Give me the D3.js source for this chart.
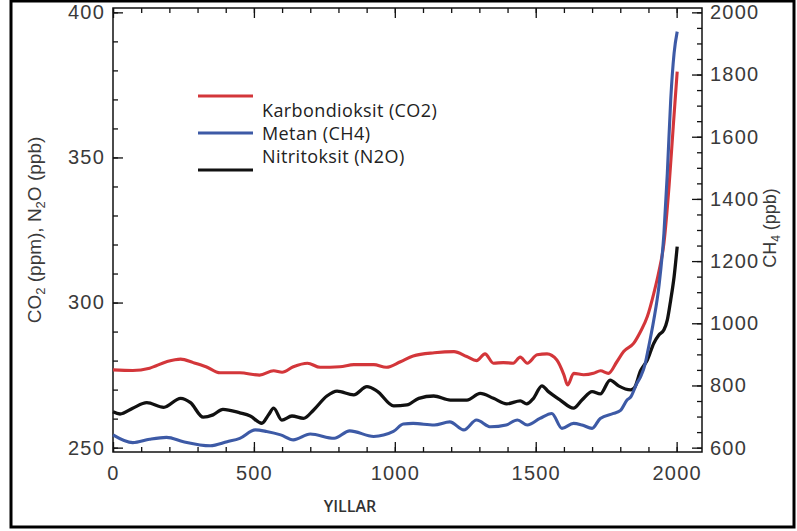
<!DOCTYPE html>
<html>
<head>
<meta charset="utf-8">
<script src="https://cdn.jsdelivr.net/npm/d3@7"></script>
<style>
  html, body { margin: 0; padding: 0; background: #fff; }
  svg { display: block; }
</style>
</head>
<body>
<svg id="chart" width="797" height="531"></svg>
<script>
// Carbon dioxide (ppm, left axis)
const co2Years = [0, 70, 130, 190, 240, 285, 330, 380, 450, 520, 570, 600, 640, 690, 735, 805, 855, 925, 970, 1020,
  1065, 1140, 1210, 1255, 1290, 1320, 1350, 1385, 1420, 1445, 1470, 1505, 1540, 1575, 1600, 1613, 1635, 1670, 1705,
  1730, 1758, 1788, 1812, 1848, 1872, 1896, 1919, 1937, 1955, 1973, 1988, 2002];
const co2Values = [276.8, 276.6, 277.4, 279.6, 280.5, 279.3, 277.9, 275.8, 275.8, 275.0, 276.5, 276.0, 277.9, 279.1,
  277.7, 277.9, 278.6, 278.6, 277.7, 279.6, 281.6, 282.7, 283.1, 281.4, 280.0, 282.3, 279.1, 279.3, 279.1, 281.2,
  279.1, 282.0, 282.3, 280.2, 275.1, 271.6, 275.6, 275.1, 275.6, 276.5, 275.6, 279.6, 283.1, 286.0, 290.0, 295.2,
  303.2, 310.7, 320.5, 340.0, 360.7, 379.6];

// Methane (ppb, right axis)
const ch4Years = [0, 70, 130, 190, 250, 345, 405, 450, 505, 545, 595, 640, 700, 785, 840, 925, 995, 1030, 1065, 1140,
  1195, 1245, 1290, 1340, 1395, 1435, 1470, 1515, 1557, 1593, 1634, 1664, 1700, 1729, 1776, 1801, 1824, 1837, 1859,
  1872, 1889, 1896, 1919, 1937, 1955, 1967, 1979, 1991, 2002];
const ch4Values = [641, 616, 627, 633, 619, 606, 619, 630, 657, 652, 641, 625, 644, 630, 654, 636, 652, 676, 678, 673,
  683, 657, 689, 667, 673, 689, 673, 694, 710, 662, 678, 673, 662, 694, 710, 720, 753, 763, 807, 828, 872, 903, 1011,
  1118, 1290, 1483, 1719, 1869, 1938];

// Nitrous oxide (ppb, left axis)
const n2oYears = [0, 25, 70, 120, 180, 240, 275, 320, 355, 390, 450, 487, 528, 552, 570, 599, 635, 676, 712, 759, 795,
  854, 901, 937, 996, 1043, 1085, 1138, 1197, 1256, 1303, 1350, 1397, 1445, 1468, 1492, 1522, 1545, 1587, 1634, 1664,
  1700, 1729, 1764, 1794, 1837, 1850, 1872, 1896, 1919, 1937, 1955, 1967, 1979, 1991, 2002];
const n2oValues = [262.4, 261.6, 263.6, 265.5, 263.9, 267.0, 265.5, 260.5, 261.3, 263.2, 262.0, 260.9, 258.4, 261.3,
  263.6, 259.5, 260.9, 260.1, 263.0, 267.8, 269.5, 268.2, 271.0, 269.5, 264.4, 264.7, 267.0, 267.8, 266.4, 266.4,
  268.7, 267.0, 265.1, 266.1, 265.1, 267.0, 271.3, 269.3, 266.4, 263.6, 266.4, 269.3, 268.5, 273.3, 271.3, 269.9,
  270.6, 276.5, 280.2, 286.0, 288.8, 290.6, 294.0, 300.9, 308.9, 319.3];

// Axis ticks
const xMajorTicks = [0, 500, 1000, 1500, 2000];
const xMinorTicks = d3.range(0, 2001, 100);
const leftMajorTicks = [250, 300, 350, 400];
const leftMinorTicks = d3.range(250, 401, 10);
const rightMajorTicks = [600, 800, 1000, 1200, 1400, 1600, 1800, 2000];
const rightMinorTicks = d3.range(600, 2001, 50);

// Legend entries
const legendLabels = ["Karbondioksit (CO2)", "Metan (CH4)", "Nitritoksit (N2O)"];
const legendColors = ["#d3363a", "#3d5aa6", "#111111"];

const svg = d3.select("#chart");
const plot = { left: 113, right: 702, top: 8, bottom: 452 };

const x = d3.scaleLinear().domain([0, 2090]).range([plot.left, plot.right]);
const yL = d3.scaleLinear().domain([248.5, 401.5]).range([plot.bottom, plot.top]);
// CH4 axis shares the frame: 600 ppb sits level with 250, 2000 ppb with 400
const ppbPerUnit = 1400 / 150;
const yR = d3.scaleLinear()
  .domain([600 + (248.5 - 250) * ppbPerUnit, 600 + (401.5 - 250) * ppbPerUnit])
  .range([plot.bottom, plot.top]);

const tickFont = "'Liberation Sans', Arial, sans-serif";
const textColor = "#3a3a3a";
const plain = d3.format("d");

function styleAxis(g) {
  g.select(".domain").remove();
  g.selectAll(".tick line").attr("stroke", "#111").attr("stroke-width", 1.3);
  g.selectAll(".tick text").attr("fill", textColor).attr("font-family", tickFont)
    .attr("font-size", 20).attr("letter-spacing", 1.2);
}

// Minor ticks (inward)
svg.append("g").attr("transform", `translate(${plot.left},0)`)
  .call(d3.axisLeft(yL).tickValues(leftMinorTicks).tickSize(-5).tickFormat(""))
  .call(styleAxis);
svg.append("g").attr("transform", `translate(${plot.right},0)`)
  .call(d3.axisRight(yR).tickValues(rightMinorTicks).tickSize(-5).tickFormat(""))
  .call(styleAxis);
svg.append("g").attr("transform", `translate(0,${plot.bottom})`)
  .call(d3.axisBottom(x).tickValues(xMinorTicks).tickSize(-5).tickFormat(""))
  .call(styleAxis);
svg.append("g").attr("transform", `translate(0,${plot.top})`)
  .call(d3.axisTop(x).tickValues(xMinorTicks).tickSize(-5).tickFormat(""))
  .call(styleAxis);

// Major ticks with labels
svg.append("g").attr("transform", `translate(${plot.left},0)`)
  .call(d3.axisLeft(yL).tickValues(leftMajorTicks).tickFormat(plain)
    .tickSizeInner(-10).tickSizeOuter(0).tickPadding(8))
  .call(styleAxis);
svg.append("g").attr("transform", `translate(${plot.right},0)`)
  .call(d3.axisRight(yR).tickValues(rightMajorTicks).tickFormat(plain)
    .tickSizeInner(-10).tickSizeOuter(0).tickPadding(8))
  .call(styleAxis);
svg.append("g").attr("transform", `translate(0,${plot.bottom})`)
  .call(d3.axisBottom(x).tickValues(xMajorTicks).tickFormat(plain)
    .tickSizeInner(-10).tickSizeOuter(0).tickPadding(14))
  .call(styleAxis);
svg.append("g").attr("transform", `translate(0,${plot.top})`)
  .call(d3.axisTop(x).tickValues(xMajorTicks).tickSizeInner(-10).tickSizeOuter(0).tickFormat(""))
  .call(styleAxis);

// Plot frame
svg.append("rect")
  .attr("x", plot.left).attr("y", plot.top)
  .attr("width", plot.right - plot.left).attr("height", plot.bottom - plot.top)
  .attr("fill", "none").attr("stroke", "#111").attr("stroke-width", 1.5);

// Series lines
const lineLeft = d3.line().x(d => x(d[0])).y(d => yL(d[1])).curve(d3.curveMonotoneX);
const lineRight = d3.line().x(d => x(d[0])).y(d => yR(d[1])).curve(d3.curveMonotoneX);

const co2 = d3.zip(co2Years, co2Values);
const ch4 = d3.zip(ch4Years, ch4Values);
const n2o = d3.zip(n2oYears, n2oValues);

svg.append("path").datum(n2o).attr("d", lineLeft)
  .attr("fill", "none").attr("stroke", legendColors[2]).attr("stroke-width", 3.3)
  .attr("stroke-linejoin", "round");
svg.append("path").datum(co2).attr("d", lineLeft)
  .attr("fill", "none").attr("stroke", legendColors[0]).attr("stroke-width", 3.1)
  .attr("stroke-linejoin", "round");
svg.append("path").datum(ch4).attr("d", lineRight)
  .attr("fill", "none").attr("stroke", legendColors[1]).attr("stroke-width", 3.1)
  .attr("stroke-linejoin", "round");

// Axis titles
const leftTitle = svg.append("text")
  .attr("transform", "translate(41,230) rotate(-90)")
  .attr("text-anchor", "middle")
  .attr("font-family", tickFont).attr("font-size", 19).attr("fill", textColor);
leftTitle.append("tspan").text("CO");
leftTitle.append("tspan").text("2").attr("font-size", 13).attr("dy", 4);
leftTitle.append("tspan").text(" (ppm), N").attr("dy", -4);
leftTitle.append("tspan").text("2").attr("font-size", 13).attr("dy", 4);
leftTitle.append("tspan").text("O (ppb)").attr("dy", -4);

const rightTitle = svg.append("text")
  .attr("transform", "translate(776,228) rotate(-90)")
  .attr("text-anchor", "middle")
  .attr("font-family", tickFont).attr("font-size", 18).attr("fill", textColor);
rightTitle.append("tspan").text("CH");
rightTitle.append("tspan").text("4").attr("font-size", 12).attr("dy", 4);
rightTitle.append("tspan").text(" (ppb)").attr("dy", -4);

svg.append("text")
  .attr("x", 350).attr("y", 512)
  .attr("text-anchor", "middle")
  .attr("font-family", "'Open Sans', sans-serif").attr("font-weight", 600)
  .attr("font-size", 16).attr("fill", "#333")
  .text("YILLAR");

// Legend
const legendLineY = [96, 133, 170];
const legendTextY = [117, 140, 163];
const legend = svg.append("g");
legendLabels.forEach((label, i) => {
  legend.append("line")
    .attr("x1", 198).attr("x2", 253)
    .attr("y1", legendLineY[i]).attr("y2", legendLineY[i])
    .attr("stroke", legendColors[i]).attr("stroke-width", 3);
  legend.append("text")
    .attr("x", 262).attr("y", legendTextY[i])
    .attr("font-family", "'Open Sans', sans-serif").attr("font-size", 18)
    .attr("letter-spacing", 0.4)
    .attr("fill", "#222")
    .text(label);
});

// Outer border
svg.append("rect")
  .attr("x", 11).attr("y", 1).attr("width", 783).attr("height", 526)
  .attr("fill", "none").attr("stroke", "#000").attr("stroke-width", 3);
</script>
</body>
</html>
